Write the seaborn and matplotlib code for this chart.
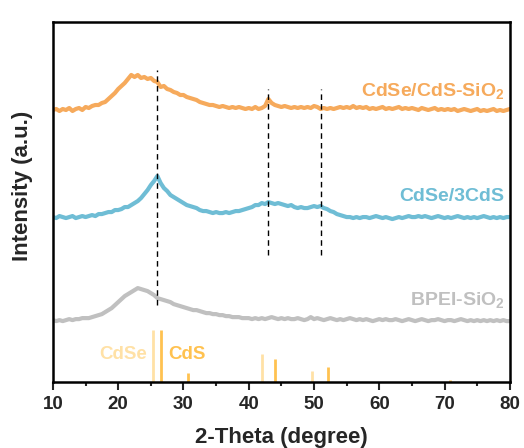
import numpy as np
import pandas as pd
import matplotlib
matplotlib.use('Agg')
import matplotlib.pyplot as plt
import seaborn as sns

# 2-theta grid (0.5 degree steps, 10-80)
two_theta = np.arange(10, 80.5, 0.5)

# heights above each curve's own baseline (a.u.)
cdse_cds_sio2 = [
    0, 1, -1, 1, 0, 2, -1, 1, 2, 0, 3, 2, 4, 5, 5, 7, 8, 11, 14, 17,
    21, 24, 27, 31, 35, 33, 35, 32, 33, 31, 32, 29, 28, 23, 24, 21, 20, 18, 17, 15,
    15, 13, 12, 11, 10, 8, 7, 6, 5, 5, 4, 3, 4, 3, 2, 3, 2, 3, 2, 1,
    2, 1, 3, 1, 2, 4, 11, 7, 5, 4, 3, 4, 3, 2, 3, 2, 3, 2, 3, 2,
    4, 3, 1, 2, 1, 2, 1, 2, 3, 2, 3, 2, 4, 2, 3, 2, 3, 1, 2, 1,
    2, 3, 1, 2, 1, 2, 3, 1, 2, 1, 2, 1, 0, 2, 1, 0, 1, 2, 0, 1,
    0, 1, 0, 1, -1, 0, 1, 0, -1, 0, 1, -1, 0, -1, 0, 1, -1, 0, -1, 0,
    1,
]
cdse_3cds = [
    1, 0, 2, 1, 0, 1, 2, 0, 1, 2, 1, 2, 3, 2, 4, 4, 5, 6, 6, 8,
    8, 9, 11, 11, 13, 15, 17, 20, 24, 28, 33, 37, 42, 35, 30, 27, 23, 21, 19, 17,
    15, 13, 12, 11, 10, 8, 7, 7, 6, 5, 6, 5, 5, 6, 5, 6, 7, 7, 8, 9,
    10, 11, 13, 13, 15, 14, 16, 15, 14, 15, 14, 13, 12, 13, 11, 10, 11, 10, 10, 11,
    12, 11, 12, 10, 9, 7, 6, 4, 3, 2, 1, 1, 0, 1, 0, 1, 1, 0, 1, 2,
    1, 0, 1, 0, -1, 0, 1, 0, 1, 2, 1, 1, 2, 1, 2, 1, 0, 1, 2, 1,
    0, 1, 0, 1, 2, 1, 0, 1, 0, 1, 0, 1, 2, 1, 0, 1, 0, 1, 0, 1,
    1,
]
bpei_sio2 = [
    1, 0, 1, 0, 1, 2, 1, 2, 2, 3, 3, 3, 4, 5, 6, 7, 9, 11, 13, 16,
    19, 22, 25, 27, 29, 31, 33, 32, 31, 30, 28, 26, 23, 22, 21, 20, 19, 17, 16, 15,
    14, 13, 12, 11, 11, 10, 9, 8, 8, 7, 7, 6, 6, 5, 5, 4, 4, 4, 3, 3,
    3, 2, 3, 2, 3, 2, 3, 4, 3, 2, 3, 2, 3, 2, 2, 3, 2, 1, 2, 4,
    2, 3, 2, 1, 2, 3, 2, 1, 2, 1, 2, 3, 2, 1, 2, 1, 2, 1, 0, 1,
    2, 1, 2, 1, 1, 2, 1, 0, 1, 2, 1, 0, 1, 2, 1, 0, 1, 1, 2, 1,
    0, 1, 1, 0, 1, 2, 1, 0, 1, 0, 1, 0, 1, 0, 1, 0, 1, 0, 1, 0,
    0,
]
baselines = {'CdSe/CdS-SiO2': 272, 'CdSe/3CdS': 164, 'BPEI-SiO2': 61}
colors = {'CdSe/CdS-SiO2': '#F6AA5C', 'CdSe/3CdS': '#6FBDD5', 'BPEI-SiO2': '#C0C0C0'}
labels = {'CdSe/CdS-SiO2': r'CdSe/CdS-SiO$_\mathbf{2}$',
          'CdSe/3CdS': 'CdSe/3CdS',
          'BPEI-SiO2': r'BPEI-SiO$_\mathbf{2}$'}
label_y = {'CdSe/CdS-SiO2': 290, 'CdSe/3CdS': 186, 'BPEI-SiO2': 81}

# reference patterns (position, relative height)
cdse_pos = [25.4, 42.0, 49.7]
cdse_int = [52, 28, 11]
cds_pos = [26.5, 30.7, 44.0, 52.2, 70.8]
cds_int = [52, 9, 23, 15, 2]

# guide lines
dash_pos = [25.9, 42.9, 51.0]
dash_lo = [77, 127, 127]
dash_hi = [312, 293, 293]

sns.set_style('ticks')
plt.rcParams['font.family'] = ['Liberation Sans', 'DejaVu Sans']
plt.rcParams['font.weight'] = 'bold'
plt.rcParams['mathtext.fontset'] = 'custom'
plt.rcParams['mathtext.rm'] = 'Liberation Sans'
plt.rcParams['mathtext.bf'] = 'Liberation Sans:bold'

df = pd.DataFrame({'two_theta': np.tile(two_theta, 3),
                   'sample': np.repeat(list(baselines.keys()), len(two_theta)),
                   'h': cdse_cds_sio2 + cdse_3cds + bpei_sio2})
df['intensity'] = df['h'] + df['sample'].map(baselines)

fig = plt.figure(figsize=(5.24, 4.48), dpi=100)
ax = fig.add_axes([0.101, 0.147, 0.872, 0.804])

sns.lineplot(data=df, x='two_theta', y='intensity', hue='sample',
             palette=colors, linewidth=3, legend=False, ax=ax)

ax.vlines(dash_pos, dash_lo, dash_hi, colors='black', linestyles=(0, (4, 3)), linewidth=1)

ax.vlines(cdse_pos, 0, cdse_int, colors='#FFE1A6', linewidth=2)
ax.vlines(cds_pos, 0, cds_int, colors='#FFC250', linewidth=2)
ax.text(20.7, 28, 'CdSe', color='#FFE1A6', fontsize=13.5, fontweight='bold', ha='center', va='center')
ax.text(27.6, 28, 'CdS', color='#FFC250', fontsize=13.5, fontweight='bold', ha='left', va='center')

for key in baselines:
    ax.text(79.2, label_y[key], labels[key], color=colors[key], fontsize=14,
            fontweight='bold', ha='right', va='center')

ax.set_xlim(10, 80)
ax.set_ylim(0, 360)
ax.set_xticks(range(10, 81, 10))
ax.set_xticks(range(15, 80, 10), minor=True)
ax.set_yticks([])
ax.tick_params(axis='x', which='major', direction='out', length=6, width=1.5,
               labelsize=13.5, pad=4)
ax.tick_params(axis='x', which='minor', direction='out', length=3, width=1.5)
for s in ax.spines.values():
    s.set_linewidth(1.8)
    s.set_color('black')
for lab in ax.get_xticklabels():
    lab.set_fontweight('bold')

ax.set_xlabel('2-Theta (degree)', fontsize=16, fontweight='bold')
ax.xaxis.set_label_coords(0.5, -0.125)
ax.set_ylabel('Intensity (a.u.)', fontsize=16, fontweight='bold')
ax.yaxis.set_label_coords(-0.044, 0.545)

fig.savefig('out.png', dpi=100)
plt.close(fig)
